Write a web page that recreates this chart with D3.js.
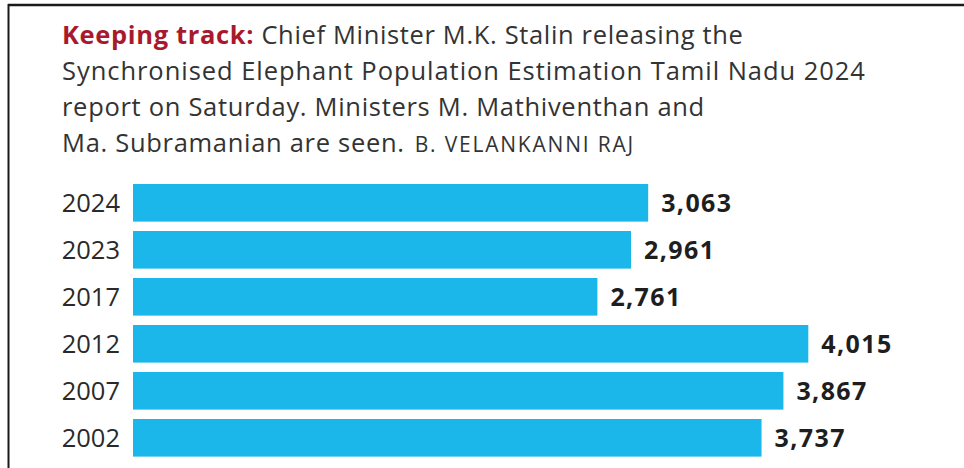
<!DOCTYPE html>
<html lang="en">
<head>
  <meta charset="UTF-8">
  <script src="https://cdn.jsdelivr.net/npm/d3@7"></script>
  <title>Elephant Population</title>
  <style>
    body { margin: 0; background: #fff; }
    text { font-family: "Open Sans", sans-serif; }
  </style>
</head>
<body>
  <script>
      // chart data
      var years = ["2024", "2023", "2017", "2012", "2007", "2002"];
      var counts = [3063, 2961, 2761, 4015, 3867, 3737];

      // caption lines (first part of line 1 is the red lead-in)
      var lead = "Keeping track:";
      var captionLines = [
        " Chief Minister M.K. Stalin releasing the",
        "Synchronised Elephant Population Estimation Tamil Nadu 2024",
        "report on Saturday. Ministers M. Mathiventhan and",
        "Ma. Subramanian are seen."
      ];
      var credit = "B. VELANKANNI RAJ";

      var width = 964, height = 468;

      var svg = d3.select("body")
        .append("svg")
        .attr("width", width)
        .attr("height", height);

      // frame lines, top and left
      svg.append("line").attr("x1", 8).attr("x2", width).attr("y1", 5).attr("y2", 5)
        .attr("stroke", "#1a1a1a").attr("stroke-width", 2.5);
      svg.append("line").attr("x1", 8.5).attr("x2", 8.5).attr("y1", 4).attr("y2", height)
        .attr("stroke", "#1a1a1a").attr("stroke-width", 2);

      // caption
      var caption = svg.append("g").attr("transform", "translate(62,0)");
      var baselines = [44, 80, 116, 152];

      var first = caption.append("text").attr("y", baselines[0])
        .attr("font-size", 25.5).attr("letter-spacing", 0.65).attr("fill", "#333");
      first.append("tspan").attr("font-weight", 700).attr("fill", "#a8192d").text(lead);
      first.append("tspan").text(captionLines[0]);

      caption.selectAll("text.line").data(captionLines.slice(1)).enter()
        .append("text").classed("line", true)
        .attr("y", function(d, i){ return baselines[i + 1]; })
        .attr("font-size", 25.5)
        .attr("letter-spacing", function(d, i){ return i === 0 ? 0.95 : 0.7; })
        .attr("fill", "#333")
        .text(function(d){ return d; });

      // credit follows the last caption line
      var lastLine = caption.selectAll("text.line").filter(function(d, i){ return i === 2; });
      var creditX = lastLine.node().getComputedTextLength() + 10;
      caption.append("text")
        .attr("x", creditX)
        .attr("y", baselines[3])
        .attr("font-size", 21)
        .attr("letter-spacing", 1.8)
        .attr("fill", "#333")
        .text(credit);

      // scales
      var y = d3.scaleBand()
        .domain(years)
        .range([179.3, 461.3])
        .paddingInner(0.2)
        .paddingOuter(0.1);

      var x = d3.scaleLinear()
        .domain([0, 4015])
        .range([133, 808.3]);

      // bars
      svg.append("g").selectAll("rect")
        .data(years).enter()
        .append("rect")
        .attr("x", x(0))
        .attr("y", function(d){ return y(d); })
        .attr("width", function(d, i){ return x(counts[i]) - x(0); })
        .attr("height", y.bandwidth())
        .attr("fill", "#1bb6ea");

      // year labels
      svg.append("g").selectAll("text")
        .data(years).enter()
        .append("text")
        .attr("x", 120)
        .attr("y", function(d){ return y(d) + y.bandwidth() / 2; })
        .attr("dy", "0.36em")
        .attr("text-anchor", "end")
        .attr("font-size", 25.5)
        .attr("fill", "#2a2a2a")
        .text(function(d){ return d; });

      // value labels
      var fmt = d3.format(",");
      svg.append("g").selectAll("text")
        .data(years).enter()
        .append("text")
        .attr("x", function(d, i){ return x(counts[i]) + 13; })
        .attr("y", function(d){ return y(d) + y.bandwidth() / 2; })
        .attr("dy", "0.36em")
        .attr("font-size", 25)
        .attr("font-weight", 700)
        .attr("letter-spacing", 1.4)
        .attr("fill", "#1e1e1e")
        .text(function(d, i){ return fmt(counts[i]); });
  </script>
</body>
</html>
